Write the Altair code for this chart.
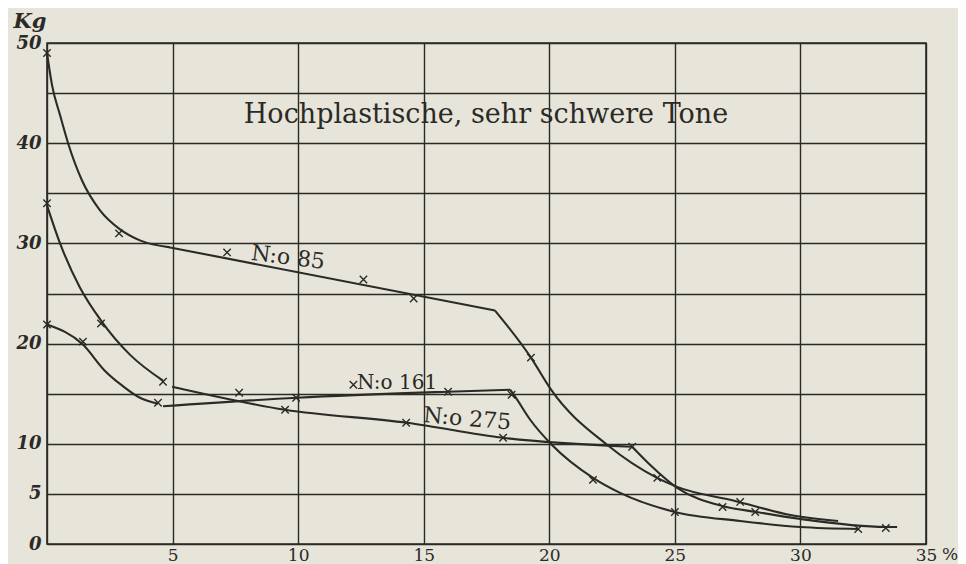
import altair as alt
import pandas as pd

# ---- curve paths, split where the drawing has a corner ----
c85_segments = [
    ([0, 0.2, 0.52, 0.84, 1.39, 2.11, 2.91, 3.7, 4.9],
     [49.0, 45.8, 42.8, 40.0, 36.3, 33.3, 31.4, 30.3, 29.6]),
    ([4.9, 17.84],
     [29.6, 23.3]),
    ([17.84, 19.27, 20.07, 22.3, 24.29, 25.09, 27.4, 29.6, 31.5],
     [23.3, 18.6, 15.4, 9.9, 6.6, 5.7, 4.3, 2.9, 2.3]),
]
c161_segments = [
    ([0, 1.43, 2.3, 3.0, 3.7, 4.42],
     [21.9, 19.9, 17.3, 15.8, 14.6, 14.0]),
    ([4.62, 9.96, 15.97, 18.44],
     [13.75, 14.6, 15.2, 15.4]),
    ([18.44, 18.64, 19.24, 20.1, 21.74, 22.82, 25.0, 27.6, 29.99, 32.3],
     [15.4, 14.7, 12.4, 9.9, 6.6, 5.1, 3.2, 2.3, 1.7, 1.5]),
]
c275_segments = [
    ([0, 0.52, 1.31, 2.15, 3.3, 4.62],
     [33.8, 30.0, 25.6, 22.3, 18.9, 16.3]),
    ([4.98, 9.48, 14.34, 18.16, 23.3],
     [15.7, 13.4, 12.1, 10.6, 9.7]),
    ([23.3, 24.01, 25.09, 26.88, 28.24, 29.99, 33.41, 33.85],
     [9.7, 7.9, 5.6, 3.8, 3.2, 2.5, 1.7, 1.7]),
]

# ---- measured points (x marks) ----
m85_x = [0, 2.87, 7.17, 12.6, 14.6, 19.27, 24.3, 27.6]
m85_y = [49.0, 31.0, 29.1, 26.4, 24.5, 18.6, 6.6, 4.2]

m161_x = [0, 1.43, 4.42, 9.92, 12.2, 15.97, 18.5, 21.74, 25.0, 32.3]
m161_y = [21.9, 20.2, 14.1, 14.6, 15.9, 15.2, 14.9, 6.4, 3.2, 1.5]

m275_x = [0, 2.15, 4.62, 7.65, 9.48, 14.3, 18.16, 23.3, 26.9, 28.2, 33.4]
m275_y = [34.0, 22.0, 16.2, 15.1, 13.4, 12.1, 10.6, 9.7, 3.7, 3.2, 1.6]

x_ticks = [0, 5, 10, 15, 20, 25, 30, 35]
y_ticks = [0, 5, 10, 15, 20, 25, 30, 35, 40, 45, 50]

title_text = "Hochplastische, sehr schwere Tone"
curve_labels = ["N:o 85", "N:o 161", "N:o 275"]

INK = "#2b2a27"
PAPER = "#e7e5d9"
SERIF = "DejaVu Serif"

rows = []
for name, segs in [("85", c85_segments), ("161", c161_segments), ("275", c275_segments)]:
    for s, (xs, ys) in enumerate(segs):
        for i, (a, b) in enumerate(zip(xs, ys)):
            rows.append({"seg": f"{name}-{s}", "i": i, "x": a, "y": b})
lines_df = pd.DataFrame(rows)

mrows = []
for name, xs, ys in [("85", m85_x, m85_y), ("161", m161_x, m161_y), ("275", m275_x, m275_y)]:
    for a, b in zip(xs, ys):
        mrows.append({"curve": name, "x": a, "y": b})
marks_df = pd.DataFrame(mrows)

xscale = alt.Scale(domain=[0, 35], nice=False, zero=False)
yscale = alt.Scale(domain=[0, 50], nice=False, zero=False)

xaxis = alt.Axis(
    values=x_ticks, labelExpr="datum.value == 0 ? '' : datum.label",
    grid=True, gridColor=INK, gridWidth=1.4, gridOpacity=1,
    ticks=False, domain=False, title=None, labelFlush=False, labelOverlap=False,
    labelFont=SERIF, labelFontSize=17, labelColor=INK, labelPadding=3,
)
yaxis = alt.Axis(
    values=y_ticks, labelExpr="indexof([15, 25, 35, 45], datum.value) >= 0 ? '' : datum.label",
    grid=True, gridColor=INK, gridWidth=1.4, gridOpacity=1,
    ticks=False, domain=False, title=None, labelFlush=False, labelOverlap=False,
    labelFont=SERIF, labelFontSize=18, labelFontStyle="italic", labelFontWeight="bold",
    labelColor=INK, labelPadding=6,
)

base_lines = alt.Chart(lines_df).mark_line(
    interpolate="monotone", color=INK, strokeWidth=2.1
).encode(
    x=alt.X("x:Q", scale=xscale, axis=xaxis),
    y=alt.Y("y:Q", scale=yscale, axis=yaxis),
    detail="seg:N",
    order="i:Q",
)

points = alt.Chart(marks_df).mark_point(
    shape="M-1,-1L1,1M-1,1L1,-1", filled=False, size=55, strokeWidth=1.4, color=INK, opacity=1
).encode(x=alt.X("x:Q", scale=xscale), y=alt.Y("y:Q", scale=yscale))


def label(text, x, y, size, angle=0, **kw):
    return alt.Chart().mark_text(
        text=text, font=SERIF, fontSize=size, color=INK, angle=angle, **kw
    ).encode(x=alt.datum(x, scale=xscale), y=alt.datum(y, scale=yscale))


title = label(title_text, 17.48, 42.8, 27)
l85 = label(curve_labels[0], 9.6, 28.6, 22, angle=7)
l161 = label(curve_labels[1], 13.94, 16.1, 20)
l275 = label(curve_labels[2], 16.73, 12.5, 22, angle=5)
kg = alt.Chart().mark_text(
    text="Kg", font=SERIF, fontSize=21, fontStyle="italic", fontWeight="bold", color=INK, dx=-17, dy=-21
).encode(x=alt.datum(0, scale=xscale), y=alt.datum(50, scale=yscale))
pct = alt.Chart().mark_text(
    text="%", font=SERIF, fontSize=17, color=INK, align="left", baseline="top", dx=16, dy=3
).encode(x=alt.datum(35, scale=xscale), y=alt.datum(0, scale=yscale))

chart = alt.layer(base_lines, points, title, l85, l161, l275, kg, pct).properties(
    width=879, height=501,
    padding={"left": 39, "top": 35, "right": 32, "bottom": 26},
    autosize=alt.AutoSizeParams(type="none"),
    background=PAPER,
).configure_view(stroke=INK, strokeWidth=1.6, fill=PAPER)

chart.save("out.html", embed_options={"renderer": "svg", "actions": False})
